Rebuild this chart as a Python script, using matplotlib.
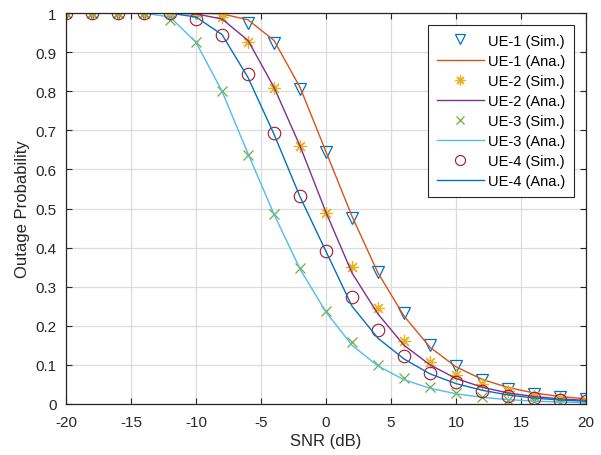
import numpy as np
import matplotlib
matplotlib.use('Agg')
import matplotlib.pyplot as plt

plt.rcParams['font.family'] = ['Liberation Sans', 'DejaVu Sans']
plt.rcParams['axes.unicode_minus'] = False

# SNR points (dB)
snr = [-20, -18, -16, -14, -12, -10, -8, -6, -4, -2, 0, 2, 4, 6, 8, 10, 12, 14, 16, 18, 20]

# simulated / analytical outage probabilities
ue1_sim = [1, 1, 1, 1, 1, 1, 0.995, 0.975, 0.923, 0.806, 0.645, 0.476, 0.338, 0.233, 0.151, 0.098, 0.060, 0.038, 0.026, 0.018, 0.013]
ue1_ana = [1, 1, 1, 1, 1, 1, 0.998, 0.983, 0.93, 0.81, 0.645, 0.48, 0.335, 0.225, 0.145, 0.095, 0.063, 0.042, 0.028, 0.019, 0.013]
ue2_sim = [1, 1, 1, 1, 1, 1, 0.99, 0.925, 0.808, 0.66, 0.488, 0.35, 0.245, 0.162, 0.108, 0.073, 0.05, 0.032, 0.021, 0.014, 0.009]
ue2_ana = [1, 1, 1, 1, 1, 0.998, 0.985, 0.93, 0.81, 0.66, 0.49, 0.335, 0.23, 0.15, 0.1, 0.065, 0.043, 0.028, 0.019, 0.013, 0.009]
ue3_sim = [1, 1, 1, 1, 0.983, 0.925, 0.80, 0.638, 0.487, 0.348, 0.237, 0.158, 0.10, 0.066, 0.043, 0.028, 0.017, 0.011, 0.007, 0.005, 0.003]
ue3_ana = [1, 1, 1, 1, 0.99, 0.925, 0.80, 0.64, 0.485, 0.345, 0.235, 0.15, 0.097, 0.062, 0.04, 0.026, 0.017, 0.011, 0.007, 0.005, 0.003]
ue4_sim = [1, 1, 1, 1, 1, 0.985, 0.945, 0.845, 0.693, 0.533, 0.392, 0.274, 0.19, 0.123, 0.079, 0.055, 0.033, 0.021, 0.015, 0.01, 0.007]
ue4_ana = [1, 1, 1, 1, 1, 0.99, 0.945, 0.835, 0.69, 0.53, 0.39, 0.25, 0.168, 0.115, 0.077, 0.052, 0.035, 0.023, 0.015, 0.01, 0.007]

fig = plt.figure(figsize=(6.01, 4.56), dpi=100)
ax = fig.add_axes([0.110, 0.112, 0.865, 0.857])

ms = 9
ax.plot(snr, ue1_sim, 'v', mfc='none', mec='#0072BD', ms=ms, mew=0.9, label='UE-1 (Sim.)')
ax.plot(snr, ue1_ana, '-', color='#D95319', lw=1.0, label='UE-1 (Ana.)')
ax.plot(snr, ue2_sim, linestyle='none', marker=(8, 2, 0), mec='#EDB120', ms=ms, mew=0.9, label='UE-2 (Sim.)')
ax.plot(snr, ue2_ana, '-', color='#7E2F8E', lw=1.0, label='UE-2 (Ana.)')
ax.plot(snr, ue3_sim, 'x', mec='#77AC30', ms=7, mew=0.9, label='UE-3 (Sim.)')
ax.plot(snr, ue3_ana, '-', color='#4DBEEE', lw=1.0, label='UE-3 (Ana.)')
ax.plot(snr, ue4_sim, 'o', mfc='none', mec='#A2142F', ms=ms, mew=0.8, label='UE-4 (Sim.)')
ax.plot(snr, ue4_ana, '-', color='#0072BD', lw=1.0, label='UE-4 (Ana.)')

ax.set_xlim(-20, 20)
ax.set_ylim(0, 1)
ax.set_xticks(np.arange(-20, 21, 5))
ax.set_yticks(np.arange(0, 1.01, 0.1))
ax.set_yticklabels(['0', '0.1', '0.2', '0.3', '0.4', '0.5', '0.6', '0.7', '0.8', '0.9', '1'])
ax.grid(True, color='#dcdcdc', lw=0.9)
ax.set_axisbelow(True)
ax.tick_params(direction='in', top=True, right=True, labelsize=11, colors='#262626', length=4)
ax.tick_params(axis='x', pad=8)
ax.tick_params(axis='y', pad=7)
for s in ax.spines.values():
    s.set_color('#262626')
    s.set_linewidth(0.9)
ax.set_xlabel('SNR (dB)', fontsize=12, color='#262626', labelpad=3)
ax.set_ylabel('Outage Probability', fontsize=12, color='#262626', labelpad=4)

leg = ax.legend(loc='upper right', fontsize=10.5, fancybox=False, framealpha=1,
                edgecolor='#262626', handlelength=3.25, handletextpad=0.3,
                borderaxespad=0.8, labelspacing=0.42, markerscale=0.8,
                borderpad=0.6)
leg.get_frame().set_linewidth(0.8)

fig.savefig('out.png', dpi=100)
